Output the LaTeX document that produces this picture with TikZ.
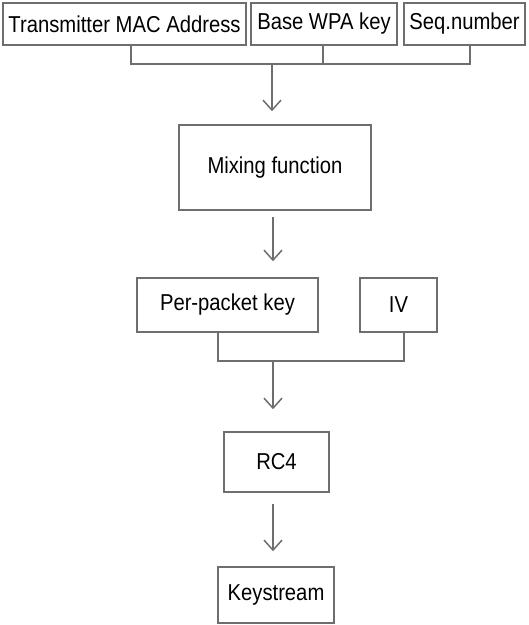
\documentclass[tikz,border=0pt]{standalone}
\usepackage{fontspec}
\setmainfont{Liberation Sans}[FakeStretch=0.88]
\usetikzlibrary{arrows.meta}
\definecolor{linegray}{RGB}{110,110,110}
\begin{document}
\begin{tikzpicture}[x=1pt,y=-1pt,
  box/.style={draw=linegray,line width=1.5pt,inner sep=0pt,font=\fontsize{23}{26}\selectfont,text=black},
  conn/.style={draw=linegray,line width=1.5pt},
  arr/.style={conn,-{Straight Barb[length=10pt,width=18pt,line width=1.5pt]}}]
\useasboundingbox (0,0) rectangle (529,625);
\node[box,minimum width=243pt,minimum height=42pt] (t1) at (124.5,24) {Transmitter MAC Address};
\node[box,minimum width=146pt,minimum height=42pt] (t2) at (324,24) {Base WPA key};
\node[box,minimum width=121pt,minimum height=42pt] (t3) at (464.5,24) {Seq.number};
\node[box,minimum width=192pt,minimum height=85pt] (mix) at (275,167.5) {Mixing function};
\node[box,minimum width=181pt,minimum height=54pt] (pk) at (227.5,305) {Per-packet key};
\node[box,minimum width=77pt,minimum height=54pt] (iv) at (398.5,305) {IV};
\node[box,minimum width=105pt,minimum height=60pt] (rc) at (276.5,462) {RC4};
\node[box,minimum width=116pt,minimum height=56pt] (ks) at (276,595) {Keystream};
\coordinate (b1) at (131,64);
\coordinate (b2) at (323,64);
\coordinate (b3) at (470,64);
\coordinate (j1) at (272,64);
\coordinate (c1) at (218,361);
\coordinate (c2) at (404,361);
\coordinate (j2) at (273,361);
\draw[conn] (t1.south -| b1) -- (b1) -- (b3) -- (t3.south -| b3);
\draw[conn] (t2.south -| b2) -- (b2);
\draw[arr,shorten >=13pt] (j1) -- (mix.north -| j1);
\draw[arr,shorten <=6pt,shorten >=16pt] (mix.south -| j2) -- (pk.north -| j2);
\draw[conn] (pk.south -| c1) -- (c1) -- (c2) -- (iv.south -| c2);
\draw[arr,shorten >=22pt] (j2) -- (rc.north -| j2);
\draw[arr,shorten <=11pt,shorten >=15pt] (rc.south -| j2) -- (ks.north -| j2);
\end{tikzpicture}
\end{document}
